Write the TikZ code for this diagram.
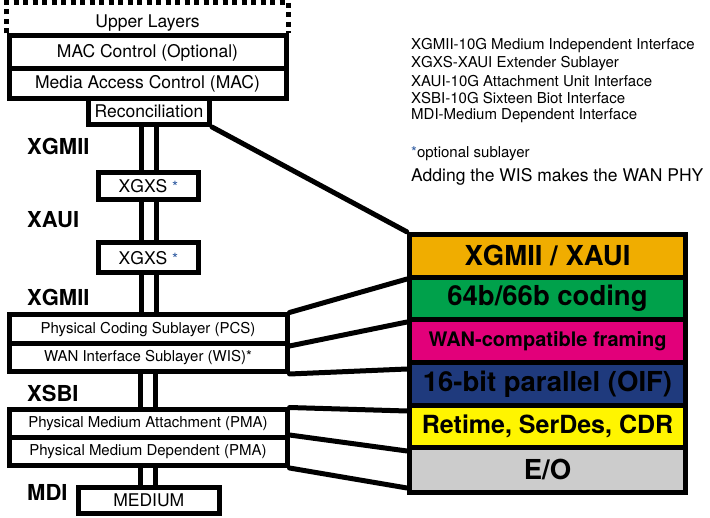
\documentclass[tikz,border=0pt]{standalone}
\usepackage{fontspec}
\setmainfont{TeX Gyre Heros}
\usetikzlibrary{calc,backgrounds}
\definecolor{bandorange}{RGB}{240,173,0}
\definecolor{bandgreen}{RGB}{0,161,75}
\definecolor{bandmagenta}{RGB}{226,0,122}
\definecolor{bandblue}{RGB}{31,58,125}
\definecolor{bandyellow}{RGB}{255,245,0}
\definecolor{bandgray}{RGB}{204,204,204}
\definecolor{starblue}{RGB}{46,90,160}

\begin{document}
\begin{tikzpicture}[x=1pt,y=-1pt,
  layer/.style={draw,line width=5pt,fill=white,inner sep=0pt,
    font=\fontsize{17.5}{20}\selectfont},
  phy/.style={layer,font=\fontsize{15}{18}\selectfont},
  rail/.style={line width=5pt},
  link/.style={line width=5pt,line cap=round},
  iface/.style={anchor=west,inner sep=0pt,
    font=\fontsize{22}{24}\selectfont\bfseries},
  band/.style={inner sep=0pt,minimum width=271pt,
    font=\fontsize{27.5}{30}\selectfont\bfseries},
  legend/.style={anchor=west,inner sep=0pt,font=\fontsize{15}{18}\selectfont}]

\useasboundingbox (0,0) rectangle (710,518);

% ---- protocol stack (left) ----
\node[layer,minimum width=277pt,minimum height=33pt] (macctl) at (147.5,52.5) {MAC Control (Optional)};
\node[layer,minimum width=277pt,minimum height=29.5pt] (mac) at (147.5,83.75) {Media Access Control (MAC)};
\node[layer,minimum width=121pt,minimum height=26pt] (rec) at (149,111.5) {Reconciliation};
\node[layer,minimum width=100pt,minimum height=27.5pt] (xgxsa) at (148.5,186.25) {XGXS {\color{starblue}\fontsize{15.5}{15}\selectfont*}};
\node[layer,minimum width=100pt,minimum height=29.5pt] (xgxsb) at (148.5,257.75) {XGXS {\color{starblue}\fontsize{15.5}{15}\selectfont*}};
\node[phy,minimum width=278pt,minimum height=28.5pt] (pcs) at (148,329.25) {Physical Coding Sublayer (PCS)};
\node[phy,minimum width=278pt,minimum height=28pt] (wis) at (148,357.5) {WAN Interface Sublayer (WIS)*};
\node[phy,minimum width=278pt,minimum height=27.5pt] (pma) at (148,423.75) {Physical Medium Attachment (PMA)};
\node[phy,minimum width=278pt,minimum height=28pt] (pmd) at (148,451.5) {Physical Medium Dependent (PMA)};
\node[layer,minimum width=140.5pt,minimum height=26pt] (medium) at (148.75,500.5) {MEDIUM};

% upper layers: dotted outline sitting on the MAC Control box
\node[inner sep=0pt,font=\fontsize{17.5}{20}\selectfont] (upper) at (147.5,23) {Upper Layers};
\draw[line width=5pt,dash pattern=on 5pt off 4.5pt]
  (macctl.north west) -- ++(0,-31) -| (macctl.north east);

% interface names
\node[iface] (xgmiia) at (27,146) {XGMII};
\node[iface] (xaui) at (27,220) {XAUI};
\node[iface] (xgmiib) at (27,297) {XGMII};
\node[iface] (xsbi) at (27,393) {XSBI};
\node[iface] (mdi) at (27,492) {MDI};

% ---- function bands (right) ----
\node[fill=black,inner sep=0pt,minimum width=281pt,minimum height=263pt] (stack) at (547.5,363.5) {};
\node[band,fill=bandorange,minimum height=38pt] (bxgmii) at (547.5,256) {XGMII / XAUI};
\node[band,fill=bandgreen,minimum height=37pt] (bcode) at (547.5,298.5) {64b/66b coding};
\node[band,fill=bandmagenta,minimum height=38pt,font=\fontsize{20}{22}\selectfont\bfseries] (bwan) at (547.5,341) {WAN-compatible framing};
\node[band,fill=bandblue,minimum height=38pt] (boif) at (547.5,384) {16-bit parallel (OIF)};
\node[band,fill=bandyellow,minimum height=37pt,font=\fontsize{25}{27}\selectfont\bfseries] (bcdr) at (547.5,426.5) {Retime, SerDes, CDR};
\node[band,fill=bandgray,minimum height=40pt] (beo) at (547.5,470) {E/O};

% ends of the mapping lines on the band frame
\coordinate (e1) at (stack.north west);
\coordinate (e2) at (407,279);
\coordinate (e3) at (407,322);
\coordinate (e4) at (407,369);
\coordinate (e5) at (407,411);
\coordinate (e6) at (407,451);
\coordinate (e7) at (407,488);

\begin{scope}[on background layer]
  % paired rails between the sublayers
  \foreach \a/\b in {rec/xgxsa,xgxsa/xgxsb,xgxsb/pcs,wis/pma,pmd/medium}{
    \draw[rail] ([xshift=-7.5pt]\a.south) -- ([xshift=-7.5pt]\a.south |- \b.north);
    \draw[rail] ([xshift=7.5pt]\a.south) -- ([xshift=7.5pt]\a.south |- \b.north);
  }
  % mapping lines from the sublayers to the bands
  \draw[link] (rec.south east) -- (e1);
  \draw[link] (pcs.north east) -- (e2);
  \draw[link] (pcs.south east) -- (e3);
  \draw[link] (wis.south east) -- (e4);
  \draw[link] (pma.north east) -- (e5);
  \draw[link] (pmd.north east) -- (e6);
  \draw[link] (pmd.south east) -- (e7);
\end{scope}

% ---- legend ----
\node[legend] (l1) at (411,46) {XGMII-10G Medium Independent Interface};
\node[legend] (l2) at (411,63.5) {XGXS-XAUI Extender Sublayer};
\node[legend] (l3) at (411,81) {XAUI-10G Attachment Unit Interface};
\node[legend] (l4) at (411,98) {XSBI-10G Sixteen Biot Interface};
\node[legend] (l5) at (411,115.5) {MDI-Medium Dependent Interface};
\node[legend] (l6) at (411,154) {{\color{starblue}*}optional sublayer};
\node[legend,font=\fontsize{17.5}{20}\selectfont] (l7) at (411,177) {Adding the WIS makes the WAN PHY};

\end{tikzpicture}
\end{document}
